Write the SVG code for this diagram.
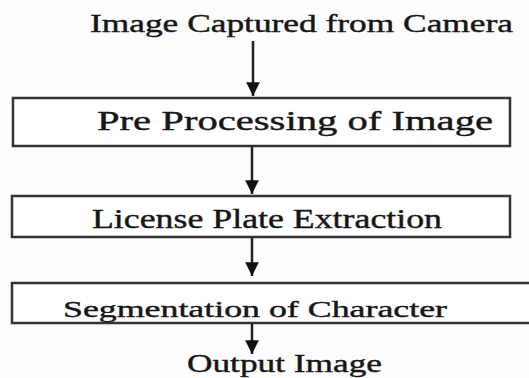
<svg xmlns="http://www.w3.org/2000/svg" width="529" height="378" viewBox="0 0 529 378">
<style>
.box{fill:#fff;stroke:#333;stroke-width:2.5}
.t{font-family:"Liberation Serif","Times New Roman",serif;fill:#161616;stroke:#161616;stroke-width:0.4}
.c{stroke:#222;stroke-width:2.5;fill:none}
</style>
<defs>
<marker id="ah" viewBox="0 0 10 10" refX="10" refY="5" markerWidth="5.5" markerHeight="5.5" orient="auto" markerUnits="strokeWidth">
<path d="M0,0 L10,5 L0,10 Z" fill="#111"/>
</marker>
</defs>
<rect width="529" height="378" fill="#fdfdfd"/>
<g id="start"><text class="t" x="90" y="32" font-size="25" textLength="423" lengthAdjust="spacingAndGlyphs">Image Captured from Camera</text></g>
<g id="preprocessing"><rect class="box" x="13" y="98" width="497" height="48"/><text class="t" x="97" y="130" font-size="28" textLength="396" lengthAdjust="spacingAndGlyphs">Pre Processing  of Image</text></g>
<g id="extraction"><rect class="box" x="12" y="196" width="498" height="41"/><text class="t" x="92" y="228" font-size="27" textLength="350" lengthAdjust="spacingAndGlyphs">License  Plate  Extraction</text></g>
<g id="segmentation"><rect class="box" x="12" y="283" width="530" height="40"/><text class="t" x="63" y="317" font-size="24" textLength="384" lengthAdjust="spacingAndGlyphs">Segmentation  of Character</text></g>
<g id="output"><text class="t" x="187" y="372" font-size="25" textLength="195" lengthAdjust="spacingAndGlyphs">Output Image</text></g>
<g id="connectors">
<line class="c" x1="253" y1="41" x2="253" y2="96" marker-end="url(#ah)"/>
<line class="c" x1="252" y1="147" x2="252" y2="194" marker-end="url(#ah)"/>
<line class="c" x1="252" y1="238" x2="252" y2="276" marker-end="url(#ah)"/>
<line class="c" x1="252" y1="324" x2="252" y2="354" marker-end="url(#ah)"/>
</g>
</svg>
